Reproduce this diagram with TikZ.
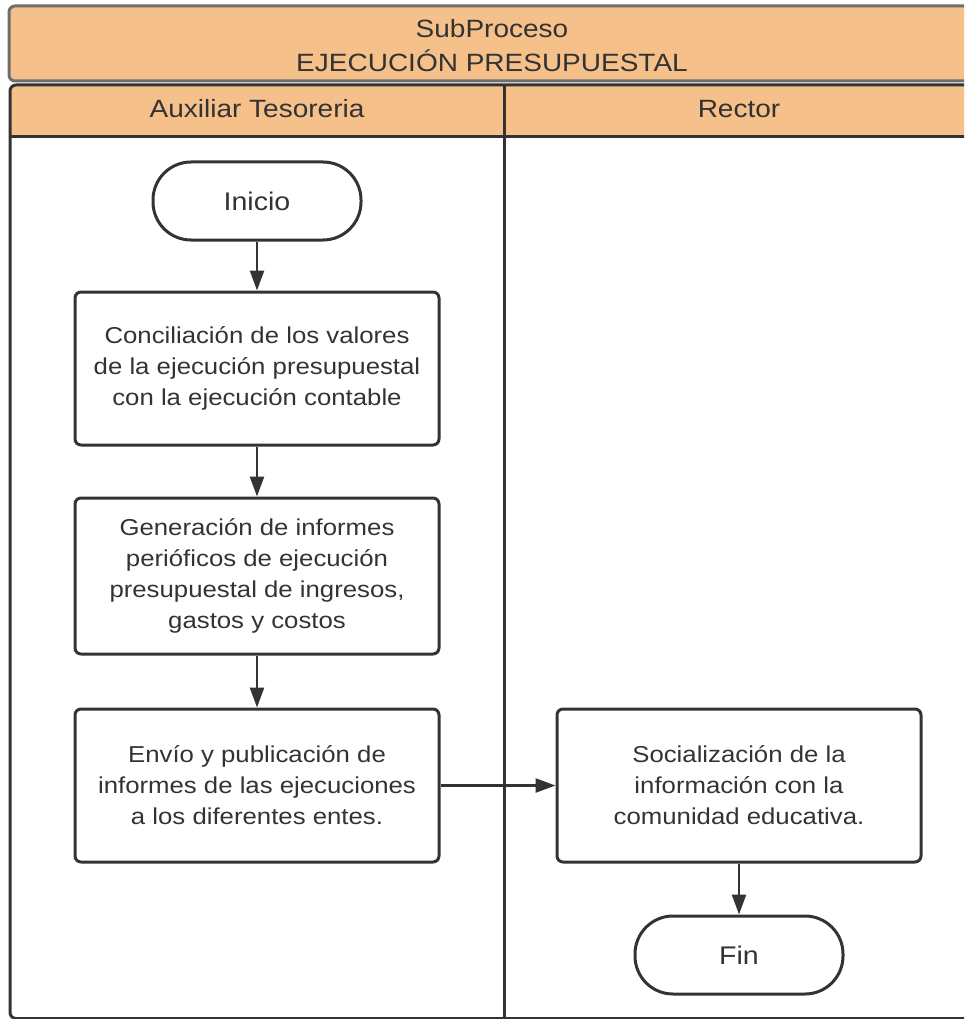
\documentclass[tikz,border=0pt]{standalone}
\usepackage{fontspec}
\setmainfont{Liberation Sans}[FakeStretch=1.12]
\usetikzlibrary{arrows.meta}
\definecolor{hdr}{RGB}{246,192,138}
\definecolor{ink}{RGB}{51,51,51}
\definecolor{hline}{RGB}{110,110,110}
\begin{document}
\begin{tikzpicture}[x=1pt,y=-1pt,
  proc/.style={draw=ink, line width=3pt, rounded corners=6pt, minimum width=364pt, minimum height=153pt, align=center, text=ink, font=\fontsize{23}{31}\selectfont, inner sep=0pt},
  term/.style={draw=ink, line width=3pt, rounded corners=38pt, minimum width=208pt, minimum height=78pt, text=ink, font=\fontsize{25.5}{30}\selectfont},
  flow/.style={draw=ink, line width=2.5pt, -{Triangle[length=20pt,width=14pt]}},
  hdrtext/.style={text=ink, align=center, font=\fontsize{25}{34}\selectfont},
  laneline/.style={draw=ink, line width=3pt}]
\useasboundingbox (0,0) rectangle (964,1019);
\clip (0,0) rectangle (964,1019);
% title box
\draw[draw=hline, line width=3pt, fill=hdr, rounded corners=6pt] (9,6) rectangle (975,81);
\node[hdrtext] (title) at (492,46) {SubProceso\\EJECUCIÓN PRESUPUESTAL};
% lane header
\fill[hdr] (10,137) [rounded corners=6pt] -- (10,85) -- (980,85) [sharp corners] -- (980,137) -- cycle;
\draw[laneline, rounded corners=6pt] (10,85) rectangle (974,1018.5);
\draw[laneline] (10,137) -- (974,137);
\draw[laneline] (504,85) -- (504,1019);
\node[hdrtext] (lane1) at (257,109) {Auxiliar Tesoreria};
\node[hdrtext] (lane2) at (739,109) {Rector};
% flow
\node[term] (inicio) at (257,201) {Inicio};
\node[proc] (c1) at (257,368.5) {Conciliación de los valores\\de la ejecución presupuestal\\con la ejecución contable};
\node[proc, minimum height=156pt] (c2) at (257,576) {Generación de informes\\perióficos de ejecución\\presupuestal de ingresos,\\gastos y costos};
\node[proc] (c3) at (257,785.5) {Envío y publicación de\\informes de las ejecuciones\\a los diferentes entes.};
\node[proc] (c4) at (739,785.5) {Socialización de la\\información con la\\comunidad educativa.};
\node[term] (fin) at (739,955) {Fin};
\draw[flow] (inicio) -- (c1);
\draw[flow] (c1) -- (c2);
\draw[flow] (c2) -- (c3);
\draw[flow] (c3) -- (c4);
\draw[flow] (c4) -- (fin);
\end{tikzpicture}
\end{document}
